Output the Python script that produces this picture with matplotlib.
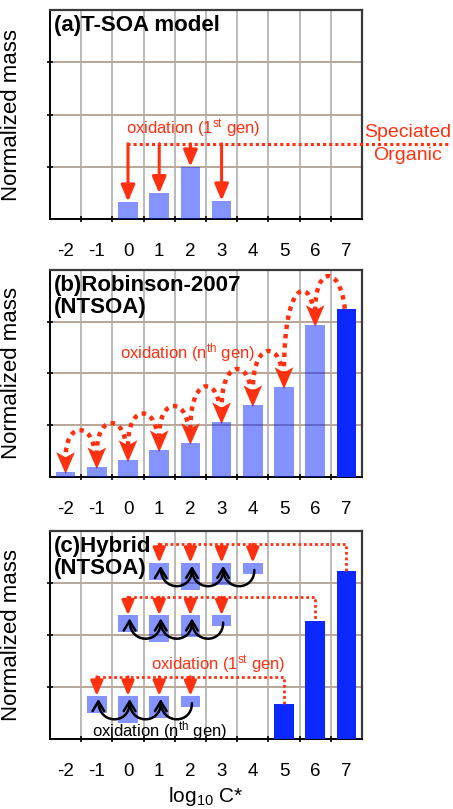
import matplotlib
matplotlib.use('Agg')
import matplotlib.pyplot as plt
from matplotlib.patches import Polygon, PathPatch, FancyArrowPatch
from matplotlib.path import Path
from matplotlib.colors import to_rgba
import numpy as np

plt.rcParams['font.family'] = ['Liberation Sans', 'DejaVu Sans']
plt.rcParams['mathtext.fontset'] = 'custom'
plt.rcParams['mathtext.rm'] = 'Liberation Sans'
plt.rcParams['mathtext.it'] = 'Liberation Sans:italic'

# volatility bins (log10 C*)
logc = [-2, -1, 0, 1, 2, 3, 4, 5, 6, 7]

# (a) T-SOA: first generation products from speciated organics
tsoa_bins = [0, 1, 2, 3]
tsoa_mass = [0.33, 0.49, 1.0, 0.35]

# (b) Robinson-2007: mass in every bin, last bin is primary emission
rob_mass = [0.10, 0.19, 0.33, 0.52, 0.66, 1.06, 1.39, 1.74, 2.94, 3.25]

# (c) Hybrid: primary bins and the (shared) product distribution they feed
hybrid_bins = [5, 6, 7]
hybrid_mass = [0.67, 2.27, 3.23]
product_start = [-1, 0, 1]
product_top = [0.83, 2.38, 3.39]
product_shape = [0.33, 0.52, 0.42, 0.21]

RED = '#ff3010'
BLUE = '#0a28ff'
LIGHT = to_rgba(BLUE, 0.5)
BAR_W = 0.63


def cubic(p0, p1, p2, p3):
    return Path([p0, p1, p2, p3], [Path.MOVETO, Path.CURVE4, Path.CURVE4, Path.CURVE4])


def setup(ax, label):
    ax.set_xlim(-2.5, 7.5)
    ax.set_ylim(0, 4)
    ax.set_xticks(logc)
    ax.set_xticklabels([str(v) for v in logc])
    edges = np.arange(-1.5, 7.5, 1)
    ax.set_xticks(edges, minor=True)
    ax.set_yticks([1, 2, 3])
    ax.set_yticklabels([])
    ax.tick_params(axis='x', which='major', length=0, labelsize=13.5, pad=17)
    ax.tick_params(axis='x', which='minor', length=4, width=1.2, direction='inout')
    ax.tick_params(axis='y', length=4, width=1.2, direction='inout')
    for v in edges:
        ax.axvline(v, color='#b4b4b4', lw=1.3, zorder=0)
    for v in [1, 2, 3]:
        ax.axhline(v, color='#b9a698', lw=1.4, zorder=0)
    for s in ['top', 'right']:
        ax.spines[s].set_color('#3a3a3a')
        ax.spines[s].set_linewidth(1.6)
    for s in ['left', 'bottom']:
        ax.spines[s].set_color('black')
        ax.spines[s].set_linewidth(1.4)
    ax.set_ylabel('Normalized mass', fontsize=16)
    ax.yaxis.set_label_coords(-0.09, 0.5)
    ax.text(0.012, 0.975, label, transform=ax.transAxes, fontsize=16,
            fontweight='bold', va='top', ha='left', linespacing=1.05, zorder=6)


def red_arrow(ax, x, y_from, y_to, lw, scale):
    ax.annotate('', xy=(x, y_to), xytext=(x, y_from),
                arrowprops=dict(arrowstyle='-|>,head_length=1.0,head_width=0.42',
                                color=RED, lw=lw, shrinkA=0, shrinkB=0,
                                mutation_scale=scale), zorder=4)


fig = plt.figure(figsize=(4.53, 8.09), dpi=100)
ax_a = fig.add_axes([0.1104, 0.7293, 0.6887, 0.2583])
ax_b = fig.add_axes([0.1104, 0.4104, 0.6887, 0.2559])
ax_c = fig.add_axes([0.1104, 0.0865, 0.6887, 0.2571])

# ---- (a)
ax = ax_a
setup(ax, '(a)T-SOA model')
ax.bar(tsoa_bins, tsoa_mass, width=BAR_W, color=LIGHT, zorder=3)
lvl = 1.44
ax.plot([tsoa_bins[0] - 0.04, 10.3], [lvl, lvl], color=RED, lw=2.2,
        ls=(0, (1, 1)), clip_on=False, zorder=4)
for b, m in zip(tsoa_bins, tsoa_mass):
    red_arrow(ax, b, lvl, m, 2.2, 10)
ax.text(2.08, 1.52, r'oxidation (1$^{\rm st}$ gen)', color=RED, fontsize=12,
        ha='center', va='bottom')
ax.text(8.97, lvl, 'Speciated\nOrganic', color=RED, fontsize=14, ha='center',
        va='center', linespacing=1.45, clip_on=False)

# ---- (b)
ax = ax_b
setup(ax, '(b)Robinson-2007\n(NTSOA)')
colors = [LIGHT] * (len(logc) - 1) + [BLUE]
ax.bar(logc, rob_mass, width=BAR_W, color=colors, zorder=3)
head_len = 0.36
last = len(logc) - 1
for k in range(last, 0, -1):
    dx, dy = logc[k - 1], rob_mass[k - 1]
    if k == last:
        sx, sy = logc[k] - 0.05, rob_mass[k]
    else:
        sx, sy = logc[k] - 0.1, rob_mass[k] + head_len + 0.05
    peak = rob_mass[k] + 0.85
    curve = cubic((sx, sy), (sx - 0.15, peak), (dx, peak), (dx, dy + head_len * 0.75))
    ax.add_patch(PathPatch(curve, fill=False, ec=RED, lw=3.2, ls=(0, (1, 1.1)),
                           capstyle='butt', zorder=2))
for x, y in zip(logc[:-1], rob_mass[:-1]):
    ax.add_patch(Polygon([(x - 0.3, y + head_len + 0.02), (x, y - 0.04),
                          (x + 0.3, y + head_len + 0.02), (x, y + head_len - 0.08)],
                         closed=True, color=RED, lw=0, zorder=2))
ax.text(1.9, 2.4, r'oxidation (n$^{\rm th}$ gen)', color=RED, fontsize=12,
        ha='center', va='center')

# ---- (c)
ax = ax_c
setup(ax, '(c)Hybrid\n(NTSOA)')
ax.bar(hybrid_bins, hybrid_mass, width=BAR_W, color=BLUE, zorder=3)
line_levels = [1.20, 2.73, 3.75]
shape = np.array(product_shape)
for g, (b, m) in enumerate(zip(hybrid_bins, hybrid_mass)):
    xs = np.arange(len(shape)) + product_start[g]
    top = product_top[g]
    ax.bar(xs, shape, bottom=top - shape, width=BAR_W, color=LIGHT, zorder=3)
    lvl = line_levels[g]
    ax.plot([xs[0], b, b], [lvl, lvl, m], color=RED, lw=2.0, ls=(0, (1, 1)), zorder=4)
    for x in xs:
        red_arrow(ax, x, lvl, top, 2.0, 9)
    for k in range(len(xs) - 1):
        x1, x0 = xs[k + 1] + 0.05, xs[k] + 0.05
        curve = cubic((x1, top - 0.14), (x1, top - 0.56), (x0, top - 0.56), (x0, top - 0.06))
        ax.add_patch(FancyArrowPatch(path=curve, arrowstyle='->,head_length=0.5,head_width=0.3',
                                     mutation_scale=14, lw=1.8, color='black', zorder=5))
ax.text(2.9, 1.42, r'oxidation (1$^{\rm st}$ gen)', color=RED, fontsize=12,
        ha='center', va='center')
ax.text(1.0, 0.17, r'oxidation (n$^{\rm th}$ gen)', color='black', fontsize=12,
        ha='center', va='center', zorder=6)
ax.set_xlabel(r'log$_{10}$ C*', fontsize=15, labelpad=4)

fig.savefig('out.png', dpi=100)
